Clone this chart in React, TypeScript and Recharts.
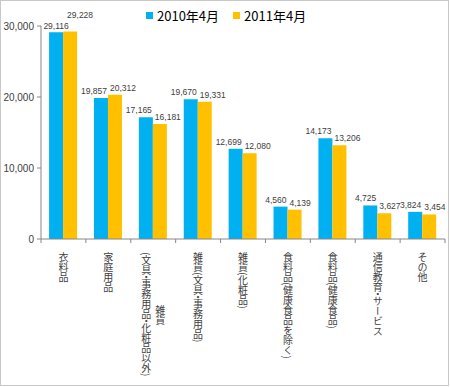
import { Bar, BarChart, LabelList, XAxis, YAxis } from "recharts";

const categories = [
  "衣料品",
  "家庭用品",
  "雑貨\n(文具・事務用品・化粧品以外)",
  "雑貨(文具・事務用品)",
  "雑貨(化粧品)",
  "食料品(健康食品を除く)",
  "食料品(健康食品)",
  "通信教育・サービス",
  "その他",
];
const apr2010 = [29116, 19857, 17165, 19670, 12699, 4560, 14173, 4725, 3824];
const apr2011 = [29228, 20312, 16181, 19331, 12080, 4139, 13206, 3627, 3454];
const yTicks = [0, 10000, 20000, 30000];
const seriesNames = ["2010年4月", "2011年4月"];
const seriesColors = ["#00b0f0", "#ffc000"];

const data = categories.map((name, i) => ({ name, a: apr2010[i], b: apr2011[i] }));

const W = 448;
const H = 385;
const LEFT = 40;
const RIGHT = 4;
const band = (W - LEFT - RIGHT) / categories.length;
const jp = '"Noto Sans CJK JP", sans-serif';
const num = '"Liberation Sans", sans-serif';
const tickFont = 10;
const fmt = (v: number) => v.toLocaleString("en-US");

// rough length of a vertical line of text
const lineLen = (s: string) =>
  [...s].reduce((t, c) => t + (/[()・]/.test(c) ? tickFont * 0.4 : tickFont), 0);

// the middle dot is set tight, like a half-width dot
function vertRuns(line: string) {
  const parts = line.split("・");
  const out: any[] = [];
  parts.forEach((p, k) => {
    if (k > 0) {
      out.push(
        <tspan key={"d" + k} dy={-3}>
          ・
        </tspan>
      );
    }
    if (p) {
      out.push(
        <tspan key={"t" + k} dy={k > 0 ? -3 : undefined}>
          {p}
        </tspan>
      );
    }
  });
  return out;
}

function CategoryTick(props: any) {
  const { x, y, payload, index } = props;
  const lines = String(payload.value).split("\n");
  const half = band / 2;
  const longest = Math.max(...lines.map(lineLen));
  return (
    <g>
      <line x1={x - half} y1={y - 8} x2={x - half} y2={y - 4} stroke="#868686" />
      {index === categories.length - 1 && (
        <line x1={x + half} y1={y - 8} x2={x + half} y2={y - 4} stroke="#868686" />
      )}
      {lines.map((line, i) => {
        const centered = lines.length > 1 && lineLen(line) < longest;
        return (
          <text
            key={i}
            x={x + ((lines.length - 1) / 2 - i) * 14}
            y={centered ? y + 5 + longest / 2 : y + 5}
            textAnchor={centered ? "middle" : "start"}
            fill="#404040"
            fontSize={tickFont}
            fontFamily={jp}
            style={{ writingMode: "vertical-rl" }}
          >
            {vertRuns(line)}
          </text>
        );
      })}
    </g>
  );
}

function ValueLabel(props: any) {
  const { x, y, width, value, side, index } = props;
  const left = side === "a";
  // first category: blue label centred, yellow label lifted (as in the original)
  if (index === 0) {
    return (
      <text
        x={left ? x + width / 2 : x + 4}
        y={left ? y - 3 : y - 13}
        textAnchor={left ? "middle" : "start"}
        fill="#404040"
        fontSize={8.5}
        fontFamily={num}
      >
        {fmt(Number(value))}
      </text>
    );
  }
  return (
    <text
      x={left ? x + width - 1 : x + 2}
      y={y - 4}
      textAnchor={left ? "end" : "start"}
      fill="#404040"
      fontSize={8.5}
      fontFamily={num}
    >
      {fmt(Number(value))}
    </text>
  );
}

export default function App() {
  return (
    <div
      style={{
        position: "absolute",
        left: 0,
        top: 0,
        width: 449,
        height: 386,
        border: "1px solid #c8c8c8",
        background: "#fff",
        boxSizing: "border-box",
      }}
    >
      <div
        style={{
          position: "absolute",
          top: 5,
          left: 145,
          display: "flex",
          gap: 14,
          fontFamily: jp,
          fontSize: 13,
          color: "#000",
          zIndex: 2,
        }}
      >
        {seriesNames.map((n, i) => (
          <div key={n} style={{ display: "flex", alignItems: "center", gap: 4 }}>
            <span style={{ width: 7, height: 7, background: seriesColors[i], display: "inline-block" }} />
            <span>{n}</span>
          </div>
        ))}
      </div>
      <BarChart
        width={W}
        height={H}
        data={data}
        margin={{ top: 25, right: RIGHT, bottom: 0, left: 0 }}
        barCategoryGap="18%"
        barGap={0}
      >
        <XAxis
          dataKey="name"
          interval={0}
          height={147}
          tickLine={false}
          axisLine={{ stroke: "#868686" }}
          tick={<CategoryTick />}
        />
        <YAxis
          width={LEFT}
          domain={[0, 30000]}
          ticks={yTicks}
          tickFormatter={fmt}
          tickSize={4}
          tickMargin={3}
          axisLine={{ stroke: "#868686" }}
          tickLine={{ stroke: "#868686" }}
          tick={{ fill: "#404040", fontSize: 10, fontFamily: num }}
        />
        <Bar dataKey="a" name={seriesNames[0]} fill={seriesColors[0]} isAnimationActive={false}>
          <LabelList dataKey="a" content={(p: any) => <ValueLabel {...p} side="a" />} />
        </Bar>
        <Bar dataKey="b" name={seriesNames[1]} fill={seriesColors[1]} isAnimationActive={false}>
          <LabelList dataKey="b" content={(p: any) => <ValueLabel {...p} side="b" />} />
        </Bar>
      </BarChart>
    </div>
  );
}
